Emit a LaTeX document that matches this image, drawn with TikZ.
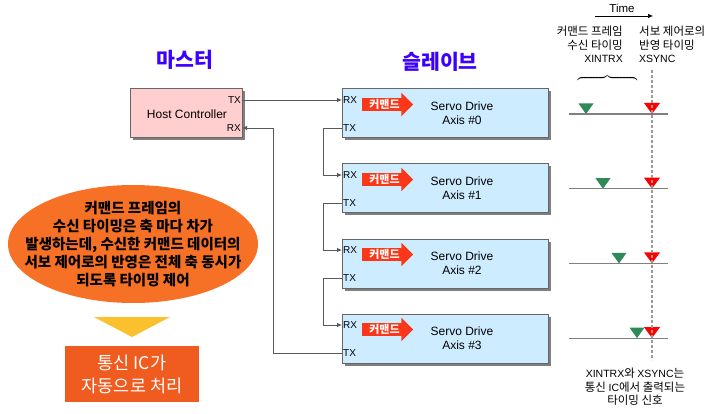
\documentclass[tikz,border=0pt]{standalone}
\usepackage{fontspec}
\setmainfont{Liberation Sans}
\newfontfamily\krfont{Noto Sans CJK KR}
\usetikzlibrary{arrows.meta,positioning,shapes.geometric,shapes.arrows,shadows}

\definecolor{titleblue}{RGB}{60,0,255}
\definecolor{hostpink}{RGB}{255,206,206}
\definecolor{axisblue}{RGB}{206,236,255}
\definecolor{cmdred}{RGB}{250,55,25}
\definecolor{trxgreen}{RGB}{46,139,87}
\definecolor{syncred}{RGB}{255,0,0}
\definecolor{noteorange}{RGB}{246,112,38}
\definecolor{icorange}{RGB}{240,92,32}
\definecolor{markyellow}{RGB}{251,192,45}

\begin{document}
\begin{tikzpicture}[x=1pt,y=-1pt,
  box/.style={draw=black!60, line width=1pt, minimum height=49pt, inner sep=0pt,
    drop shadow={shadow xshift=2.5pt, shadow yshift=-2.5pt, fill=black, opacity=.5}},
  title/.style={text=titleblue, font=\krfont\bfseries\fontsize{20.5}{22}\selectfont},
  port/.style={inner sep=1pt, font=\fontsize{10}{12}\selectfont},
  boxtext/.style={align=center, font=\fontsize{12}{14}\selectfont},
  cmd/.style={single arrow, fill=cmdred, text=white, anchor=west,
    font=\krfont\bfseries\fontsize{11}{12}\selectfont, inner xsep=1.5pt, inner ysep=1pt,
    single arrow head extend=5.5pt, single arrow head indent=0pt, minimum height=51pt},
  link/.style={draw=black!65, line width=0.8pt, -{Latex[length=5pt,width=4.5pt]}},
  small/.style={font=\krfont\fontsize{11.5}{13.5}\selectfont, inner sep=0pt}]

\useasboundingbox (0,0) rectangle (712,414);

% titles
\node[title] (master) at (185,60) {마스터};
\node[title] (slave)  at (440,62) {슬레이브};

% master
\node[box, fill=hostpink, minimum width=112pt] (host) at (186,113.5) {};
\node[boxtext] (hostlbl) at (187,114) {Host Controller};
\node[port, anchor=east] (htx) at (242,100) {TX};
\node[port, anchor=east] (hrx) at (242,128) {RX};

% slaves
\foreach \i in {0,...,3}{
  \pgfmathsetmacro\yc{113.5+75*\i}
  \node[box, fill=axisblue, minimum width=206pt] (ax\i) at (445,\yc) {};
  \node[boxtext] (lbl\i) at (462,\yc) {Servo Drive\\Axis \#\i};
  \node[port, anchor=west] (rx\i) at (342,\yc-13.5) {RX};
  \node[port, anchor=west] (tx\i) at (342,\yc+14.5) {TX};
  \node[cmd] (cmd\i) at (362,\yc-9) {커맨드};
}

% daisy chain
\draw[link] (htx.east) -- (rx0.west);
\foreach \f/\t in {% from TX/to RX
	 tx0/rx1,
	 tx1/rx2,
	 tx2/rx3}
	\draw[link] (\f.west) -- ++(-19,0) |- (\t.west);
\draw[link] (tx3.west) -| ([xshift=31pt]hrx.east) -- (hrx.east);

% time axis
\node[font=\fontsize{11.5}{13}\selectfont] (time) at (622,8) {Time};
\coordinate (t0) at (595,16);
\coordinate (t1) at (653,16);
\draw[-{Latex[length=5pt,width=4.5pt]}, line width=0.6pt] (t0) -- (t1);

\node[small, anchor=north east, align=right] (xintrx) at (623,26) {커맨드 프레임\\수신 타이밍\\{\normalfont\fontsize{10.5}{13.5}\selectfont XINTRX}};
\node[small, anchor=north west, align=left] (xsync) at (639,26) {서보 제어로의\\반영 타이밍\\{\normalfont\fontsize{10.5}{13.5}\selectfont XSYNC}};
% brace over the receive window
\node[rotate=90, inner sep=0pt] (brace) at (608,78.5)
  {$\left.\vrule height 29pt depth 29pt width 0pt\right\}$};

% timing rows
\foreach \i/\g in {0/586, 1/603, 2/619, 3/637}{
  \pgfmathsetmacro\yt{114+74.7*\i}
  \draw[black!50, line width=1.2pt] (569,\yt) -- (668,\yt);
  \fill[trxgreen] (\g-7.5,\yt-10.5) -- (\g+7.5,\yt-10.5) -- (\g,\yt) -- cycle;
  \fill[syncred] (652-8,\yt-11) -- (652+8,\yt-11) -- (652,\yt) -- cycle;
}
\draw[black!40, line width=1.2pt, dash pattern=on 3pt off 2pt] (652,70) -- (652,360);

\node[small, align=center] (note) at (635,387) {{\normalfont\fontsize{10.5}{13.5}\selectfont XINTRX}와 {\normalfont\fontsize{10.5}{13.5}\selectfont XSYNC}는\\통신 {\normalfont\fontsize{10.5}{13.5}\selectfont IC}에서 출력되는\\타이밍 신호};

% explanation
\node[ellipse, fill=noteorange, minimum width=250pt, minimum height=118pt, inner sep=0pt] (bubble) at (133,244) {};
\node[align=center, font=\krfont\bfseries\fontsize{14.5}{18}\selectfont] (bubbletxt) at (133,244) {커맨드 프레임의\\수신 타이밍은 축 마다 차가\\발생하는데, 수신한 커맨드 데이터의\\서보 제어로의 반영은 전체 축 동시가\\되도록 타이밍 제어};
\fill[markyellow] (94,317) -- (170,317) -- (132,337) -- cycle;
\node[fill=icorange, minimum width=134pt, minimum height=56pt, align=center, text=white,
  font=\krfont\fontsize{17.5}{23}\selectfont] (ic) at (132,374) {통신 IC가\\자동으로 처리};

\end{tikzpicture}
\end{document}
